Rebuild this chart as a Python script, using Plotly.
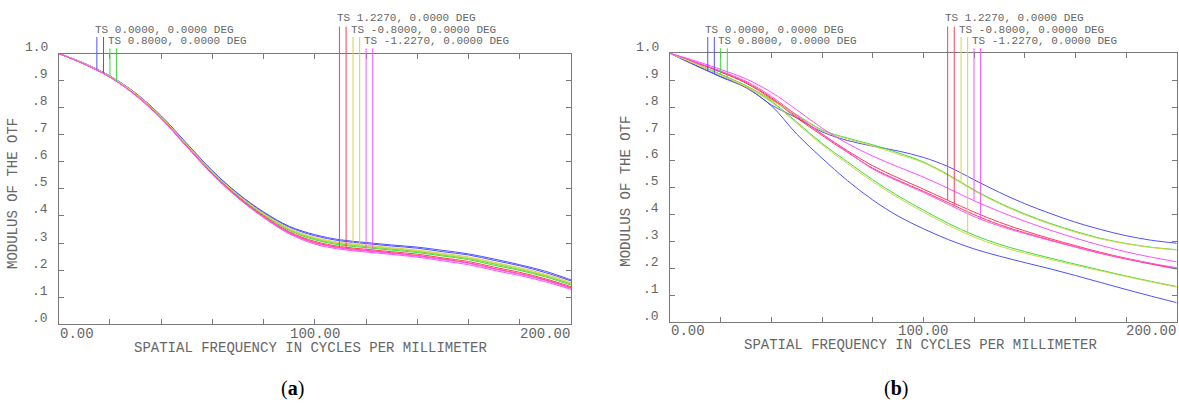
import numpy as np
import plotly.graph_objects as go

W, H = 1179, 408

# ---------------- data ----------------
FREQ = [0, 10, 20, 30, 40, 50, 60, 70, 80, 90, 100, 110, 120, 130, 140, 150, 160, 170, 180, 190, 200]

FIELD_LABELS = ["TS 0.0000, 0.0000 DEG", "TS 0.8000, 0.0000 DEG", "TS 1.2270, 0.0000 DEG",
                "TS -0.8000, 0.0000 DEG", "TS -1.2270, 0.0000 DEG"]

Y_TICK_VALUES = [0.0, 0.1, 0.2, 0.3, 0.4, 0.5, 0.6, 0.7, 0.8, 0.9, 1.0]
Y_TICK_LABELS = [".0", ".1", ".2", ".3", ".4", ".5", ".6", ".7", ".8", ".9", "1.0"]
X_TICK_VALUES = [0, 20, 40, 60, 80, 100, 120, 140, 160, 180, 200]
X_LABEL_VALUES = [0, 100, 200]
X_LABEL_TEXT = ["0.00", "100.00", "200.00"]

# Panel (a)
A_BLUE_T = [1.000, 0.964, 0.917, 0.854, 0.770, 0.668, 0.567, 0.483, 0.415, 0.362, 0.331, 0.312, 0.302, 0.293, 0.285, 0.273, 0.260, 0.241, 0.220, 0.196, 0.164]
A_BLUE_S = [1.000, 0.963, 0.917, 0.853, 0.769, 0.666, 0.566, 0.481, 0.412, 0.359, 0.327, 0.308, 0.298, 0.289, 0.281, 0.268, 0.256, 0.236, 0.216, 0.191, 0.160]
A_GREEN_T = [1.000, 0.962, 0.915, 0.850, 0.765, 0.662, 0.561, 0.476, 0.406, 0.350, 0.316, 0.297, 0.287, 0.278, 0.269, 0.256, 0.243, 0.223, 0.203, 0.179, 0.149]
A_GREEN_S = [1.000, 0.962, 0.915, 0.849, 0.764, 0.661, 0.560, 0.474, 0.403, 0.347, 0.312, 0.293, 0.283, 0.274, 0.265, 0.252, 0.239, 0.218, 0.199, 0.175, 0.145]
A_RED_T = [1.000, 0.961, 0.914, 0.848, 0.762, 0.659, 0.557, 0.471, 0.400, 0.342, 0.306, 0.287, 0.277, 0.268, 0.259, 0.245, 0.232, 0.211, 0.192, 0.168, 0.139]
A_RED_S = [1.000, 0.961, 0.913, 0.847, 0.761, 0.657, 0.556, 0.469, 0.397, 0.339, 0.302, 0.283, 0.273, 0.264, 0.254, 0.241, 0.227, 0.206, 0.187, 0.164, 0.135]
A_YELLOW_T = [1.000, 0.963, 0.916, 0.852, 0.767, 0.664, 0.563, 0.478, 0.409, 0.354, 0.321, 0.302, 0.292, 0.283, 0.274, 0.262, 0.249, 0.229, 0.209, 0.185, 0.154]
A_YELLOW_S = [1.000, 0.962, 0.915, 0.851, 0.766, 0.663, 0.562, 0.477, 0.407, 0.351, 0.318, 0.299, 0.289, 0.280, 0.271, 0.258, 0.245, 0.226, 0.205, 0.181, 0.151]
A_MAGENTA_T = [1.000, 0.961, 0.913, 0.846, 0.761, 0.657, 0.555, 0.468, 0.396, 0.337, 0.300, 0.281, 0.271, 0.262, 0.252, 0.239, 0.225, 0.204, 0.185, 0.162, 0.133]
A_MAGENTA_S = [1.000, 0.960, 0.912, 0.845, 0.759, 0.655, 0.553, 0.466, 0.394, 0.334, 0.296, 0.277, 0.267, 0.258, 0.248, 0.234, 0.220, 0.199, 0.180, 0.157, 0.129]

# Panel (b)
B_BLUE_T = [1.000, 0.955, 0.912, 0.872, 0.805, 0.700, 0.610, 0.527, 0.455, 0.395, 0.348, 0.307, 0.273, 0.246, 0.222, 0.199, 0.174, 0.148, 0.122, 0.097, 0.073]
B_BLUE_S = [1.000, 0.956, 0.914, 0.875, 0.808, 0.760, 0.708, 0.676, 0.655, 0.637, 0.613, 0.578, 0.530, 0.483, 0.441, 0.405, 0.372, 0.345, 0.322, 0.305, 0.294]
B_GREEN_T = [1.000, 0.962, 0.922, 0.880, 0.828, 0.772, 0.715, 0.685, 0.660, 0.630, 0.596, 0.548, 0.492, 0.444, 0.403, 0.368, 0.338, 0.312, 0.293, 0.279, 0.270]
B_GREEN_S = [1.000, 0.962, 0.921, 0.878, 0.822, 0.745, 0.665, 0.597, 0.530, 0.470, 0.417, 0.367, 0.324, 0.290, 0.263, 0.239, 0.216, 0.194, 0.172, 0.152, 0.133]
B_RED_T = [1.000, 0.967, 0.932, 0.892, 0.835, 0.765, 0.700, 0.638, 0.582, 0.537, 0.495, 0.452, 0.410, 0.372, 0.340, 0.311, 0.285, 0.260, 0.238, 0.218, 0.200]
B_RED_S = [1.000, 0.966, 0.930, 0.889, 0.831, 0.760, 0.695, 0.632, 0.573, 0.528, 0.487, 0.444, 0.400, 0.363, 0.333, 0.306, 0.280, 0.256, 0.235, 0.216, 0.198]
B_YELLOW_T = [1.000, 0.961, 0.920, 0.878, 0.826, 0.770, 0.712, 0.682, 0.656, 0.625, 0.593, 0.545, 0.489, 0.441, 0.400, 0.365, 0.335, 0.310, 0.292, 0.278, 0.269]
B_YELLOW_S = [1.000, 0.961, 0.919, 0.875, 0.818, 0.740, 0.660, 0.590, 0.523, 0.463, 0.410, 0.360, 0.317, 0.283, 0.257, 0.234, 0.212, 0.191, 0.170, 0.150, 0.131]
B_MAGENTA_T = [1.000, 0.972, 0.940, 0.905, 0.855, 0.790, 0.722, 0.665, 0.618, 0.578, 0.540, 0.497, 0.452, 0.412, 0.376, 0.343, 0.313, 0.286, 0.262, 0.242, 0.225]
B_MAGENTA_S = [1.000, 0.968, 0.934, 0.896, 0.840, 0.770, 0.700, 0.635, 0.570, 0.525, 0.483, 0.438, 0.393, 0.358, 0.330, 0.304, 0.280, 0.257, 0.237, 0.219, 0.203]

PANEL_A_CURVES = [(A_BLUE_T, A_BLUE_S), (A_GREEN_T, A_GREEN_S), (A_RED_T, A_RED_S),
                  (A_YELLOW_T, A_YELLOW_S), (A_MAGENTA_T, A_MAGENTA_S)]
PANEL_B_CURVES = [(B_BLUE_T, B_BLUE_S), (B_GREEN_T, B_GREEN_S), (B_RED_T, B_RED_S),
                  (B_YELLOW_T, B_YELLOW_S), (B_MAGENTA_T, B_MAGENTA_S)]

# ---------------- style / layout ----------------
FIELD_COLORS = ["#5050ff", "#3cdc3c", "#ff3c5a", "#d4d448", "#ff50ff"]
AXIS_COLOR = "#7a7a7a"
TEXT_COLOR = "#666666"
MONO = "Liberation Mono, DejaVu Sans Mono, monospace"

# pixel boxes of the two plot frames
PANELS = [dict(left=58.7, right=571.0, top=53.5, bottom=324.3, ylab_right=49.5, xlab_y=333.5, xtitle=(310, 347.5), ytitle=(12.5, 193.5), tag=(292, 388), tagtext="(<b>a</b>)"),
          dict(left=670.0, right=1176.7, top=53.3, bottom=322.3, ylab_right=661.0, xlab_y=331.0, xtitle=(920, 345.0), ytitle=(626, 191.7), tag=(896, 388), tagtext="(<b>b</b>)")]
YLAB_RAISE_PX = 6.0

# legend marker placement (Zemax style)
LEG_T_FREQ = [14.9, 20.0, 109.6, 114.9, 120.0]
LEG_TS_GAP = 2.6
LEG_ROW = [1, 2, 0, 1, 2]
ROW_TEXT_PX = [18.0, 29.5, 41.0]
ROW_LINE_TOP_PX = [26.5, 37.0, 48.3]

fig = go.Figure()
layout = dict(width=W, height=H, margin=dict(l=0, r=0, t=0, b=0, pad=0), autosize=False,
              paper_bgcolor="white", plot_bgcolor="rgba(0,0,0,0)", showlegend=False)
annotations = []


def pfx(px):
    return px / W


def pfy(py):
    return 1 - py / H


for pi, (panel, curves) in enumerate(zip(PANELS, [PANEL_A_CURVES, PANEL_B_CURVES])):
    main_x = "x" if pi == 0 else "x2"
    main_y = "y" if pi == 0 else "y2"
    ov_x = "x3" if pi == 0 else "x4"
    ov_y = "y3" if pi == 0 else "y4"
    xdom = [pfx(panel["left"]), pfx(panel["right"])]
    ydom = [pfy(panel["bottom"]), pfy(panel["top"])]
    span = panel["bottom"] - panel["top"]

    def val(py, panel=panel, span=span):
        return (panel["bottom"] - py) / span

    axis_common = dict(showgrid=False, zeroline=False, showline=True, linecolor=AXIS_COLOR, linewidth=1,
                       ticks="inside", ticklen=5, tickcolor=AXIS_COLOR, tickwidth=1, mirror="ticks",
                       fixedrange=True, showticklabels=False)
    layout["xaxis" + ("" if pi == 0 else "2")] = dict(axis_common, domain=xdom, range=[0, 200],
                                                      tickvals=X_TICK_VALUES, anchor=main_y)
    layout["yaxis" + ("" if pi == 0 else "2")] = dict(axis_common, domain=ydom, range=[0, 1],
                                                      tickvals=Y_TICK_VALUES, anchor=main_x)
    # overlay subplot covering frame + area above it (for the field legend markers)
    layout["xaxis" + ("3" if pi == 0 else "4")] = dict(domain=xdom, range=[0, 200], visible=False,
                                                       fixedrange=True, anchor=ov_y)
    layout["yaxis" + ("3" if pi == 0 else "4")] = dict(domain=[pfy(panel["bottom"]), 1.0],
                                                       range=[0, val(0.0)], visible=False,
                                                       fixedrange=True, anchor=ov_x)

    # curves
    for fi, (t_curve, s_curve) in enumerate(curves):
        for curve in (t_curve, s_curve):
            fig.add_trace(go.Scatter(x=FREQ, y=curve, mode="lines", xaxis=main_x, yaxis=main_y,
                                     line=dict(color=FIELD_COLORS[fi], width=1, shape="spline"),
                                     hoverinfo="skip"))

    # legend markers
    for fi, (t_curve, s_curve) in enumerate(curves):
        row = LEG_ROW[fi]
        top_val = val(ROW_LINE_TOP_PX[row])
        for k, curve in enumerate((t_curve, s_curve)):
            xm = LEG_T_FREQ[fi] + k * LEG_TS_GAP
            ym = float(np.interp(xm, FREQ, curve))
            fig.add_trace(go.Scatter(x=[xm, xm], y=[ym, top_val], mode="lines", xaxis=ov_x, yaxis=ov_y,
                                     line=dict(color=FIELD_COLORS[fi], width=1), hoverinfo="skip"))
        annotations.append(dict(x=LEG_T_FREQ[fi], y=val(ROW_TEXT_PX[row]), xref=ov_x, yref=ov_y,
                                text=FIELD_LABELS[fi], showarrow=False, xanchor="left", yanchor="middle",
                                xshift=-4.3, font=dict(family=MONO, size=11, color=TEXT_COLOR)))

    # y tick labels (Zemax draws them slightly above the tick)
    for yv, yt in zip(Y_TICK_VALUES, Y_TICK_LABELS):
        annotations.append(dict(x=pfx(panel["ylab_right"]), y=yv, xref="paper", yref=main_y, text=yt,
                                showarrow=False, xanchor="right", yanchor="middle", yshift=YLAB_RAISE_PX,
                                font=dict(family=MONO, size=13, color=TEXT_COLOR)))
    # x tick labels
    for xv, xt, anchor in zip(X_LABEL_VALUES, X_LABEL_TEXT, ["left", "center", "right"]):
        annotations.append(dict(x=xv, y=pfy(panel["xlab_y"]), xref=main_x, yref="paper", text=xt,
                                showarrow=False, xanchor=anchor, yanchor="middle",
                                xshift={"left": -1, "center": 0, "right": 1}[anchor],
                                font=dict(family=MONO, size=14, color=TEXT_COLOR)))
    # axis titles
    annotations.append(dict(x=pfx(panel["xtitle"][0]), y=pfy(panel["xtitle"][1]), xref="paper", yref="paper",
                            text="SPATIAL FREQUENCY IN CYCLES PER MILLIMETER", showarrow=False,
                            xanchor="center", yanchor="middle",
                            font=dict(family=MONO, size=14, color=TEXT_COLOR)))
    annotations.append(dict(x=pfx(panel["ytitle"][0]), y=pfy(panel["ytitle"][1]), xref="paper", yref="paper",
                            text="MODULUS OF THE OTF", showarrow=False, textangle=-90,
                            xanchor="center", yanchor="middle",
                            font=dict(family=MONO, size=14, color=TEXT_COLOR)))
    # panel tag
    annotations.append(dict(x=pfx(panel["tag"][0]), y=pfy(panel["tag"][1]), xref="paper", yref="paper",
                            text=panel["tagtext"], showarrow=False, xanchor="center", yanchor="middle",
                            font=dict(family="Liberation Serif, serif", size=20, color="black")))

layout["annotations"] = annotations
fig.update_layout(**layout)
fig.write_html("out.html", config={"displayModeBar": False, "staticPlot": True},
               post_script="document.documentElement.style.margin='0';document.body.style.margin='0';"
                           "document.body.style.padding='0';document.body.style.overflow='hidden';")
